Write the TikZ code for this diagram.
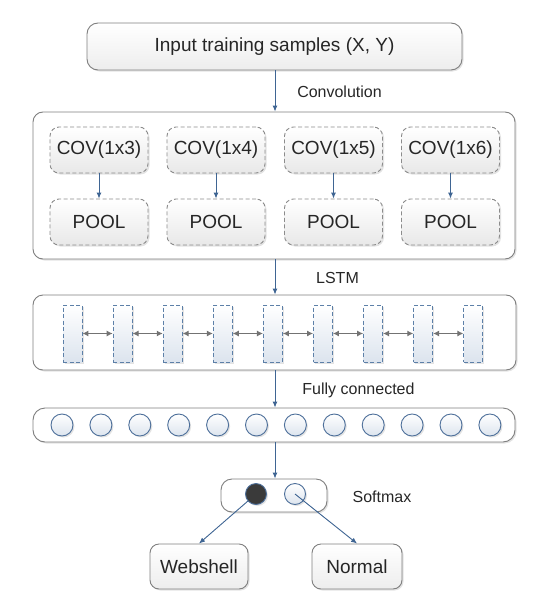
\documentclass[tikz,border=0pt]{standalone}
\usepackage{fontspec}
\setmainfont{Liberation Sans}
\usetikzlibrary{shadows,arrows.meta,calc}
\definecolor{arrowblue}{HTML}{3F6593}
\definecolor{boxgray}{HTML}{7F7F7F}
\definecolor{dashgray}{HTML}{8C8C8C}
\definecolor{lstmblue}{HTML}{5D80A8}
\definecolor{circblue}{HTML}{4D6F9A}
\definecolor{txt}{HTML}{262626}
\definecolor{darkball}{HTML}{3A3A3A}
\definecolor{paleblue}{HTML}{DCE4EE}
\tikzset{
  shad/.style={drop shadow={shadow xshift=1.5pt,shadow yshift=-1.5pt,opacity=0.22,fill=gray}},
  bigbox/.style={draw=boxgray,line width=0.9pt,rounded corners=10pt,fill=white,shad,inner sep=0pt},
  solidbox/.style={draw=boxgray,line width=0.9pt,rounded corners=9pt,top color=white,bottom color=black!7,shad,text=txt,font=\fontsize{19}{22}\selectfont,inner sep=0pt},
  dashbox/.style={draw=dashgray,line width=0.9pt,dash pattern=on 4pt off 2.5pt,rounded corners=9pt,top color=white,bottom color=black!9,shad,text=txt,font=\fontsize{19}{22}\selectfont,minimum width=98pt,minimum height=46pt,inner sep=0pt},
  lstmcell/.style={draw=lstmblue,line width=0.9pt,dash pattern=on 4pt off 2.5pt,top color=white,bottom color=paleblue,shad,minimum width=19pt,minimum height=57pt,inner sep=0pt},
  ball/.style={circle,draw=circblue,line width=0.9pt,top color=white,bottom color=paleblue,shad,minimum size=22pt,inner sep=0pt},
  darkb/.style={circle,draw=circblue,line width=0.9pt,fill=darkball,shad,minimum size=21pt,inner sep=0pt},
  lbl/.style={text=txt,font=\fontsize{16}{19}\selectfont,inner sep=0pt},
  flow/.style={draw=arrowblue,line width=0.9pt,-{Latex[length=6pt,width=5pt]}},
  bidir/.style={draw=black!55,line width=1pt,{Latex[length=6pt,width=6pt]}-{Latex[length=6pt,width=6pt]}}
}
\begin{document}
\begin{tikzpicture}[x=1pt,y=-1pt]
\useasboundingbox (0,0) rectangle (555,602);
% top input
\node[solidbox,minimum width=375pt,minimum height=47pt,rounded corners=11pt] (inp) at (274.5,46.5) {Input training samples (X, Y)};
% convolution block
\node[bigbox,minimum width=482pt,minimum height=147pt] (conv) at (274,185.5) {};
\foreach \i/\x/\k in {1/99/3,2/216/4,3/333.5/5,4/450.5/6}{
  \node[dashbox] (cov\i) at (\x,150) {COV(1x\k)};
  \node[dashbox] (pool\i) at (\x,222) {POOL};
  \draw[flow] (cov\i) -- (pool\i);
}
% LSTM block
\node[bigbox,minimum width=483pt,minimum height=75pt] (lstm) at (274.5,332.5) {};
\foreach \i in {0,...,8}{
  \node[lstmcell] (c\i) at ({72.5+50.1*\i},333.5) {};
}
\foreach \i [evaluate=\i as \j using int(\i+1)] in {0,...,7}{
  \draw[bidir] (c\i.east) -- (c\j.west);
}
% fully connected
\node[bigbox,minimum width=482pt,minimum height=34pt,rounded corners=12pt] (fc) at (274,425) {};
\foreach \i in {0,...,11}{
  \node[ball] (f\i) at ({62+38.9*\i},425) {};
}
% softmax
\node[bigbox,minimum width=106pt,minimum height=33pt,rounded corners=11pt] (soft) at (274,495.5) {};
\node[darkb] (dk) at (256,494) {};
\node[ball,minimum size=21pt] (lt) at (295,494) {};
% outputs
\node[solidbox,minimum width=98pt,minimum height=45pt] (ws) at (199,566.5) {Webshell};
\node[solidbox,minimum width=90pt,minimum height=45pt] (nm) at (357,566.5) {Normal};
% connectors
\draw[flow] (inp.south -| 275,0) -- (275,0 |- conv.north);
\draw[flow] (275,0 |- conv.south) -- (275,0 |- lstm.north);
\draw[flow] (275,0 |- lstm.south) -- (275,0 |- fc.north);
\draw[flow] (275,0 |- fc.south) -- (275,0 |- soft.north);
\draw[flow] (dk) -- (ws.north);
\draw[flow] (lt.center) -- (nm.north);
% labels
\node[lbl] (lconv) at (339.5,92) {Convolution};
\node[lbl] (llstm) at (337.5,278) {LSTM};
\node[lbl] (lfc) at (358.5,390) {Fully connected};
\node[lbl] (lsoft) at (382,497) {Softmax};
\end{tikzpicture}
\end{document}
